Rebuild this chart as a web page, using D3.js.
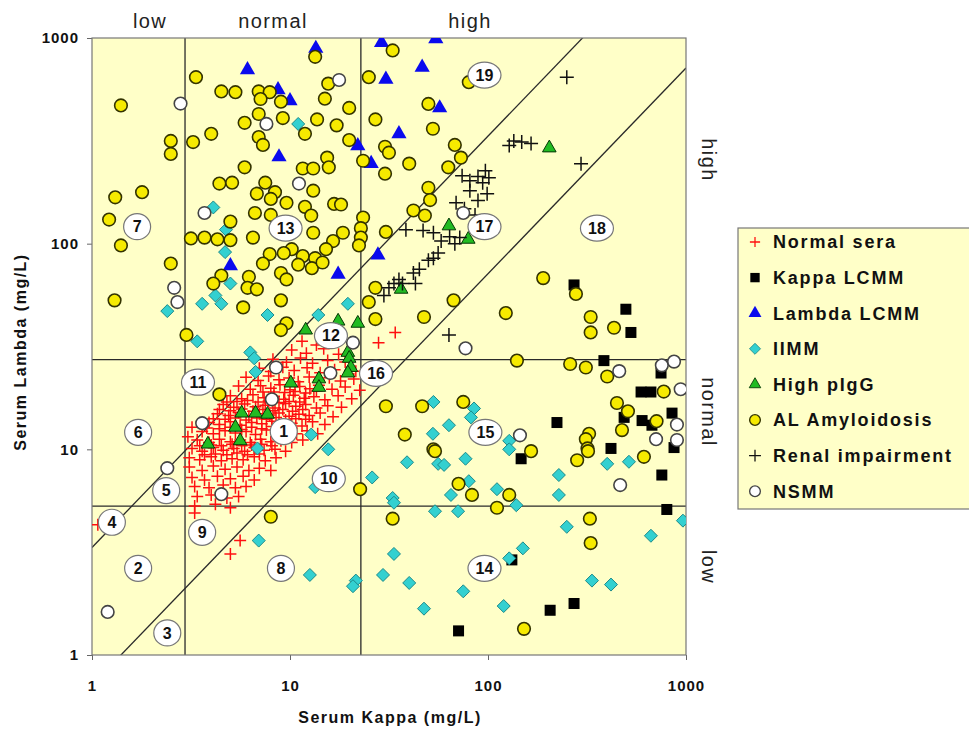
<!DOCTYPE html>
<html>
<head>
<meta charset="utf-8">
<script src="https://cdn.jsdelivr.net/npm/d3@7"></script>
<style>
  body { margin: 0; background: #fff; }
  text { font-family: "Liberation Sans", Arial, sans-serif; }
</style>
</head>
<body>
<div id="chart"></div>
<script>
// [kappa, lambda] in mg/L
const normalSera = [
  [11.5,33.5],[13.6,32.2],[16.4,34.0],[34,37],[28,33],
  [10.2,30.4],[12.1,29.3],[14.8,30.8],[17.6,29.0],
  [8.2,27.4],[9.6,26.5],[11.3,27.8],[13.0,26.2],[15.5,27.0],[19.0,26.6],
  [7.0,24.8],[8.0,23.9],[9.2,25.1],[10.5,24.2],[12.2,24.9],[14.2,23.6],[16.8,24.4],[21.5,24.0],
  [6.0,22.4],[6.9,21.6],[7.8,22.7],[8.8,21.8],[9.9,22.2],[11.0,21.3],[12.5,22.5],[14.0,21.7],[15.8,22.3],[18.0,21.5],[21.0,22.0],
  [5.5,20.3],[6.3,19.6],[7.1,20.4],[8.0,19.8],[8.9,20.6],[10.0,19.5],[11.2,20.2],[12.6,19.7],[14.0,20.5],[16.3,19.6],[19.0,20.1],[22.5,19.4],
  [5.0,18.2],[5.7,17.6],[6.5,18.4],[7.4,17.8],[8.3,18.1],[9.3,17.5],[10.4,18.3],[11.8,17.7],[13.2,18.0],[15.0,17.4],[17.5,18.2],[20.5,17.6],
  [4.6,16.5],[5.2,16.0],[5.9,16.6],[6.7,16.1],[7.5,16.4],[8.4,15.9],[9.5,16.7],[10.7,16.2],[12.0,16.5],[13.6,15.9],[15.5,16.3],[18.2,16.0],
  [4.3,14.9],[4.9,14.6],[5.5,15.1],[6.2,14.5],[7.0,14.9],[7.9,14.7],[8.8,15.0],[9.9,14.5],[11.1,14.8],[12.5,14.6],[14.2,15.0],[16.5,14.4],
  [3.9,13.5],[4.4,13.2],[5.0,13.6],[5.6,13.1],[6.4,13.5],[7.2,13.3],[8.1,13.7],[9.1,13.2],[10.2,13.4],[11.5,13.0],[13.0,13.6],[15.0,13.2],
  [3.6,12.2],[4.1,11.9],[4.7,12.3],[5.3,12.0],[6.0,12.2],[6.7,11.8],[7.6,12.4],[8.5,12.0],[9.6,12.1],[10.8,11.9],[12.2,12.3],[13.8,11.9],
  [3.4,11.1],[3.9,10.8],[4.4,11.2],[5.0,10.9],[5.6,11.1],[6.3,10.8],[7.1,11.2],[8.0,10.9],[9.0,11.0],[10.2,10.8],[11.6,11.1],
  [3.2,10.1],[3.6,9.8],[4.1,10.2],[4.6,9.9],[5.2,10.1],[5.9,9.8],[6.6,10.2],[7.4,9.9],[8.4,10.0],[9.5,9.8],
  [3.1,9.1],[3.5,8.9],[4.0,9.2],[4.5,8.8],[5.1,9.0],[5.8,8.9],[6.6,9.2],[7.5,8.8],[8.5,9.1],
  [3.1,8.2],[3.6,7.9],[4.1,8.3],[4.7,8.0],[5.4,8.2],[6.2,7.9],[7.0,8.1],[8.0,7.9],
  [3.2,7.3],[3.7,7.1],[4.3,7.4],[5.0,7.2],[5.8,7.4],[6.6,7.1],
  [3.3,6.6],[3.9,6.5],[4.6,6.7],[5.3,6.5],[6.0,6.6],
  [3.4,5.9],[4.0,6.0],[4.8,5.8],[5.5,5.9],
  [3.3,5.3],[4.2,5.4],[5.0,5.2],
  [3.3,4.9],[5.6,3.6],[5.0,3.1],[1.07,4.3],[3.2,12.8],[3.05,11.5],
  [4.8,17.0],[5.4,17.1],[6.1,17.3],[6.9,17.0],[7.8,17.2],[8.8,16.9],[9.9,17.1],[11.2,17.0],
  [4.4,15.6],[5.0,15.4],[5.7,15.7],[6.5,15.3],[7.3,15.6],[8.2,15.4],[9.2,15.6],[10.3,15.3],[11.6,15.6],
  [4.1,14.1],[4.7,14.0],[5.3,14.2],[6.0,13.9],[6.8,14.2],[7.6,14.0],[8.5,14.3],[9.5,13.9],[10.7,14.1],[12.0,14.0],
  [3.8,12.7],[4.4,12.6],[5.0,12.8],[5.7,12.5],[6.4,12.8],[7.2,12.6],[8.1,12.9],[9.1,12.6],[10.2,12.7],
  [3.5,10.4],[4.0,10.5],[4.5,10.4],[5.1,10.6],[5.7,10.4],[6.4,10.5],[7.2,10.6],[8.1,10.4],
  [3.7,9.4],[4.2,9.5],[4.8,9.4],[5.4,9.6],[6.1,9.4],[7.0,9.5],
  [8.3,19.0],[9.4,18.9],[10.6,19.1],[12.0,18.8],[7.3,19.0],[13.6,19.2]
];

const kappaLCMM = [
  [272,63],[497,48],[527,37],[385,27],[748,23.5],[593,19],[665,19],[850,15],
  [487,14.3],[600,13.8],[673,13.1],[223,13.5],[418,10.1],[870,10.2],[71,1.31],
  [147,9.0],[755,7.5],[800,5.1],[132,2.9],[206,1.65],[272,1.78]
];

const lambdaLCMM = [
  [6.1,700],[8.7,560],[10,495],[8.8,264],[13.5,890],[29,950],[54.5,990],[46.5,720],
  [30.5,630],[57,457],[35.5,342],[22,299],[25.7,245],[27.8,88],[17.5,71],[5.0,78]
];

const iimm = [
  [4.1,150],[4.75,117],[11,382],[22.8,108],[2.4,47],[3.4,33.5],[3.6,51],[4.2,56],
  [4.5,51],[5.0,64],[7.7,45],[4.7,91],[6.3,29.6],[6.6,27.7],[6.7,23.8],[6.85,10.1],
  [19.6,51],[13.9,45],[53,17],[85,15.8],[82,14.3],[63.5,13.1],[52.7,11.9],[12.8,11.8],
  [15.6,10],[128,11],[128,10],[6.95,3.6],[26,7.3],[39,8.65],[56,8.5],[60,8.4],[77,9.0],
  [80,7.0],[65,6.0],[33,5.8],[33.5,5.5],[54,5.0],[70.6,5.0],[13.4,6.55],[33.5,3.1],
  [12.6,2.45],[21.5,2.3],[20.8,2.16],[29.5,2.45],[40,2.24],[47.5,1.68],[75,2.04],
  [228,7.5],[228,6.0],[400,8.5],[515,8.7],[111,6.4],[139,5.35],[250,4.2],[665,3.8],
  [965,4.5],[128,2.95],[150,3.3],[335,2.3],[418,2.2],[120,1.73]
];

const highPIgG = [
  [63.5,122],[79.5,105],[204,292],[36.4,60],[22,41],[17.5,42],[12,38],[19.6,29.6],
  [19.9,27.7],[20.3,25],[19.6,23.5],[14,22],[14,20],[10.1,21],[5.7,15],[6.7,15],
  [7.7,14.8],[5.3,12.8],[5.6,11],[3.85,10.6]
];

const alAmyloidosis = [
  [1.4,470],[3.35,645],[4.5,550],[5.3,545],[6.95,550],[7.9,545],[7.1,505],[9.0,490],
  [2.5,316],[2.5,273],[3.24,312],[4.0,342],[5.9,387],[6.95,427],[9.2,408],[6.95,330],
  [7.3,302],[5.9,235],[4.4,196],[5.1,198],[7.5,198],[6.8,175],[8.4,178],[8.0,165],
  [9.6,158],[1.31,168],[1.79,178],[1.22,131],[5.0,128],[6.65,141],[8.0,138],[3.16,106],
  [3.7,107],[4.3,105],[5.0,104],[6.5,107],[1.4,98],
  [13.4,810],[33,870],[25,645],[80,610],[15.6,600],[15,507],[19.9,457],[50,478],
  [27,402],[13.7,402],[17.2,376],[52.7,362],[11.9,342],[19.9,319],[68,302],[30.2,296],
  [31.6,277],[73,262],[15.4,262],[15.7,235],[11.6,232],[13.1,232],[23.4,253],[40,245],
  [63,235],[30.2,219],[13.1,181],[50,187],[51,163],[16.7,156],[18.1,155],[11.9,151],
  [12.8,137],[23.4,134],[42,145],[48,137],[30.5,114],[13.1,113],[18.5,113],[16.5,103],
  [22.8,119],[22.8,107],
  [10.2,94],[11.6,87],[13.4,85],[15.2,94],[11,79],[12.9,76],[14.6,81],[9.0,72],[9.6,67],
  [7.9,89],[9.3,90],[7.3,80],[6.2,69],[6.1,61],[6.8,60],[4.5,70],[4.1,64],[5.8,49],
  [9.0,53],[9.6,41],[9.0,38],[2.5,80],[1.3,53],[3.0,36],[4.4,18.5],
  [27,61],[25,52],[27,43],[47.5,44],[67,53],[22.3,98],[30.5,16.2],[46.5,16.2],[75,17],
  [38,11.8],[53,10],
  [190,68],[278,57],[123,46],[330,44],[330,37],[433,39],[140,27],[260,26],[312,25],
  [400,22.6],[772,19.1],[448,16.8],[509,15.3],[710,13.7],[475,12.4],[324,11.9],
  [312,11.2],[318,10.1],
  [54,9.8],[71,6.8],[83,6.0],[22.6,6.4],[33,4.6],[165,9.8],[282,8.85],[320,9.8],
  [613,9.2],[128,6.0],[111,5.2],[327,4.6],[330,3.5],[152,1.34],[8.0,4.7]
];

const renalImpairment = [
  [250,645],[128,300],[135,316],[165,307],[148,312],[295,245],[101,209],[99,175],
  [74,214],[81,202],[89,212],[94,198],[69,158],[89,162],[81,181],[76,148],[97,226],
  [86,138],[38.5,117],[47,116],[53,113],[58,103],[64,108],[68,100],[72,107],[56,90],
  [53,85],[50,83],[45,75],[42,72],[35.5,67],[33.5,64],[31.6,61],[37,64],[43,64],
  [29.8,56],[63.5,36]
];

const nsmm = [
  [2.8,480],[7.6,382],[3.7,141],[17.7,625],[11.1,196],[75,141],[2.6,61],[2.7,52],
  [3.6,13.4],[8.5,25],[8.1,17.5],[77,31],[20.8,33],[16,23.5],[460,24],[755,25.6],
  [870,26.7],[940,19.6],[900,13.2],[706,11.2],[900,11.1],[145,11.7],[2.4,8.1],
  [4.5,6.05],[1.2,1.62],[465,6.7]
];

// normal ranges and ratio lines
const kappaRange = [2.95, 22.8];
const lambdaRange = [5.3, 27.3];
const ratioRange = [0.3, 1.4];

const tickValues = [1, 10, 100, 1000];
const legendNames = ["Normal sera", "Kappa LCMM", "Lambda LCMM", "IIMM", "High pIgG",
  "AL Amyloidosis", "Renal impairment", "NSMM"];

// numbered regions: [label, kappa, lambda]
const regions = [
  ["1",9.3,12.2],["2",1.71,2.64],["3",2.4,1.28],["4",1.26,4.42],["5",2.37,6.3],
  ["6",1.71,12.1],["7",1.69,121],["8",9.0,2.64],["9",3.6,3.95],["10",15.7,7.2],
  ["11",3.43,21.2],["12",16.1,35.7],["13",9.5,119],["14",96,2.64],["15",97,12.1],
  ["16",27.2,23.4],["17",96,121],["18",355,119],["19",96,660]
];

const width = 969, height = 731;
const margin = { top: 38, right: 283, bottom: 76, left: 92 };
const bg = "#ffffc8";

const svg = d3.select("#chart").append("svg")
  .attr("width", width)
  .attr("height", height);

const x = d3.scaleLog().domain([1, 1000]).range([margin.left, width - margin.right]);
const y = d3.scaleLog().domain([1, 1000]).range([height - margin.bottom, margin.top]);

svg.append("rect")
  .attr("x", x(1)).attr("y", y(1000))
  .attr("width", x(1000) - x(1)).attr("height", y(1) - y(1000))
  .attr("fill", bg);

svg.append("clipPath").attr("id", "clip")
  .append("rect")
  .attr("x", x(1)).attr("y", y(1000))
  .attr("width", x(1000) - x(1)).attr("height", y(1) - y(1000));

// range lines
const lines = svg.append("g").attr("clip-path", "url(#clip)")
  .attr("stroke", "#2a2a2a").attr("stroke-width", 1.3);
kappaRange.forEach(k => {
  lines.append("line").attr("x1", x(k)).attr("x2", x(k)).attr("y1", y(1)).attr("y2", y(1000));
});
lambdaRange.forEach(l => {
  lines.append("line").attr("x1", x(1)).attr("x2", x(1000)).attr("y1", y(l)).attr("y2", y(l));
});
ratioRange.forEach(r => {
  lines.append("line")
    .attr("x1", x(1)).attr("y1", y(1 / r))
    .attr("x2", x(1000)).attr("y2", y(1000 / r));
});

// axes
const axisFont = g => g.selectAll("text")
  .attr("font-size", 15).attr("font-weight", "bold").attr("letter-spacing", 1).attr("fill", "#111");

svg.append("g")
  .attr("transform", `translate(0,${y(1)})`)
  .call(d3.axisBottom(x).tickValues(tickValues).tickFormat(d3.format("d")).tickSize(5).tickPadding(20))
  .call(g => g.select(".domain").remove())
  .call(g => g.selectAll("line").attr("stroke", "#666"))
  .call(axisFont);

svg.append("g")
  .attr("transform", `translate(${x(1)},0)`)
  .call(d3.axisLeft(y).tickValues(tickValues).tickFormat(d3.format("d")).tickSize(5).tickPadding(8))
  .call(g => g.select(".domain").remove())
  .call(g => g.selectAll("line").attr("stroke", "#666"))
  .call(axisFont);

svg.append("rect")
  .attr("x", x(1)).attr("y", y(1000))
  .attr("width", x(1000) - x(1)).attr("height", y(1) - y(1000))
  .attr("fill", "none").attr("stroke", "#777").attr("stroke-width", 1.2);

// markers
const plusPath = a => `M${-a},0H${a}M0,${-a}V${a}`;
const diamondPath = a => `M0,${-a}L${a},0L0,${a}L${-a},0Z`;

const styles = {
  "Normal sera": g => g.append("path").attr("d", plusPath(6)).attr("stroke", "#ff1010").attr("stroke-width", 1.5).attr("fill", "none"),
  "Kappa LCMM": g => g.append("rect").attr("x", -5.5).attr("y", -5.5).attr("width", 11).attr("height", 11).attr("fill", "#000"),
  "Lambda LCMM": g => g.append("path").attr("d", d3.symbol(d3.symbolTriangle, 100)()).attr("fill", "#0a0aee"),
  "IIMM": g => g.append("path").attr("d", diamondPath(6.5)).attr("fill", "#33d0d0").attr("stroke", "#1c8a8a").attr("stroke-width", 1),
  "High pIgG": g => g.append("path").attr("d", d3.symbol(d3.symbolTriangle, 80)()).attr("fill", "#22bb22").attr("stroke", "#063806").attr("stroke-width", 1),
  "AL Amyloidosis": g => g.append("circle").attr("r", 6.3).attr("fill", "#f6ea00").attr("stroke", "#333300").attr("stroke-width", 1.6),
  "Renal impairment": g => g.append("path").attr("d", plusPath(7)).attr("stroke", "#111").attr("stroke-width", 1.5).attr("fill", "none"),
  "NSMM": g => g.append("circle").attr("r", 6.3).attr("fill", "#fff").attr("stroke", "#444").attr("stroke-width", 1.6)
};

const seriesData = [normalSera, kappaLCMM, lambdaLCMM, iimm, highPIgG, alAmyloidosis, renalImpairment, nsmm];

const marks = svg.append("g").attr("clip-path", "url(#clip)");
legendNames.forEach((name, i) => {
  marks.append("g")
    .selectAll("g")
    .data(seriesData[i])
    .join("g")
    .attr("transform", d => `translate(${x(d[0])},${y(d[1])})`)
    .each(function() { styles[name](d3.select(this)); });
});

// region labels
const reg = svg.append("g")
  .selectAll("g")
  .data(regions)
  .join("g")
  .attr("transform", d => `translate(${x(d[1])},${y(d[2])})`);
reg.append("ellipse")
  .attr("rx", d => d[0].length > 1 ? 16.5 : 13.5)
  .attr("ry", 13)
  .attr("fill", "#fff").attr("stroke", "#777").attr("stroke-width", 1.2);
reg.append("text")
  .attr("text-anchor", "middle").attr("dy", "0.36em")
  .attr("font-size", 16).attr("font-weight", "bold").attr("fill", "#111")
  .text(d => d[0]);

// zone labels
const zone = { size: 20, color: "#222", spacing: 1.4 };
[["low", 150], ["normal", 273], ["high", 470]].forEach(([t, px]) => {
  svg.append("text").attr("x", px).attr("y", 28)
    .attr("text-anchor", "middle").attr("font-size", zone.size)
    .attr("letter-spacing", zone.spacing).attr("fill", zone.color).text(t);
});
[["high", 160], ["normal", 412], ["low", 567]].forEach(([t, py]) => {
  svg.append("text")
    .attr("transform", `translate(702,${py}) rotate(90)`)
    .attr("text-anchor", "middle").attr("font-size", zone.size)
    .attr("letter-spacing", zone.spacing).attr("fill", zone.color).text(t);
});

// axis titles
svg.append("text")
  .attr("x", 390).attr("y", 723)
  .attr("text-anchor", "middle").attr("font-size", 16).attr("font-weight", "bold")
  .attr("letter-spacing", 1.5).attr("fill", "#111")
  .text("Serum Kappa (mg/L)");
svg.append("text")
  .attr("transform", "translate(26,352) rotate(-90)")
  .attr("text-anchor", "middle").attr("font-size", 16).attr("font-weight", "bold")
  .attr("letter-spacing", 1.5).attr("fill", "#111")
  .text("Serum Lambda (mg/L)");

// legend
const legend = svg.append("g").attr("transform", "translate(738,228)");
legend.append("rect")
  .attr("width", 240).attr("height", 281)
  .attr("fill", bg).attr("stroke", "#777").attr("stroke-width", 1.2);
const items = legend.selectAll("g.item")
  .data(legendNames)
  .join("g")
  .attr("class", "item")
  .attr("transform", (d, i) => `translate(17,${14 + i * 35.6})`);
items.each(function(name) {
  const g = d3.select(this).append("g").attr("transform", "scale(0.85)");
  styles[name](g);
});
items.append("text")
  .attr("x", 18).attr("dy", "0.36em")
  .attr("font-size", 18).attr("font-weight", "bold").attr("letter-spacing", 1.8).attr("fill", "#111")
  .text(d => d);
</script>
</body>
</html>
